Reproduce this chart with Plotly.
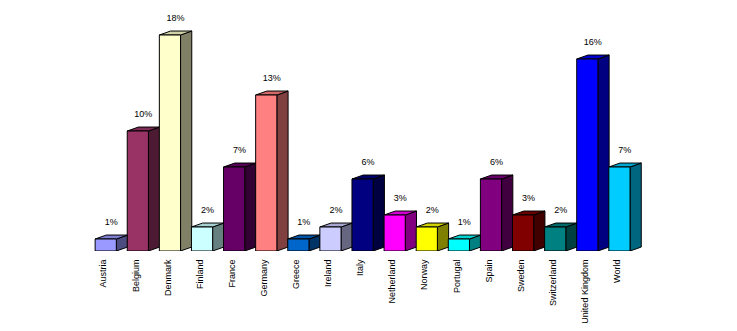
import plotly.graph_objects as go

categories = ["Austria", "Belgium", "Denmark", "Finland", "France", "Germany", "Greece",
              "Ireland", "Italy", "Netherland", "Norway", "Portugal", "Spain", "Sweden",
              "Switzerland", "United Kingdom", "World"]
values = [1, 10, 18, 2, 7, 13, 1, 2, 6, 3, 2, 1, 6, 3, 2, 16, 7]
labels = ["1%", "10%", "18%", "2%", "7%", "13%", "1%", "2%", "6%", "3%", "2%", "1%",
          "6%", "3%", "2%", "16%", "7%"]
colors = ["#9999FF", "#993366", "#FFFFCC", "#CCFFFF", "#660066", "#FF8080", "#0066CC",
          "#CCCCFF", "#000080", "#FF00FF", "#FFFF00", "#00FFFF", "#800080", "#800000",
          "#008080", "#0000FF", "#00CCFF"]


def shade(hexc, f):
    h = hexc.lstrip("#")
    r, g, b = (int(h[i:i + 2], 16) for i in (0, 2, 4))
    return "rgb(%d,%d,%d)" % (round(r * f), round(g * f), round(b * f))


# geometry of the 3D columns (in axis units)
half_l, half_r = 0.34, 0.32
dx, dy = 0.35, 0.33

fig = go.Figure()
line = dict(color="black", width=1)
for i, (v, c) in enumerate(zip(values, colors)):
    x0, x1 = i - half_l, i + half_r
    # side face
    fig.add_trace(go.Scatter(x=[x1, x1 + dx, x1 + dx, x1, x1], y=[0, dy, v + dy, v, 0],
                             fill="toself", fillcolor=shade(c, 0.5), mode="lines",
                             line=line, hoverinfo="skip", showlegend=False))
    # top face
    fig.add_trace(go.Scatter(x=[x0, x1, x1 + dx, x0 + dx, x0], y=[v, v, v + dy, v + dy, v],
                             fill="toself", fillcolor=shade(c, 0.82), mode="lines",
                             line=line, hoverinfo="skip", showlegend=False))
    # front face
    fig.add_trace(go.Scatter(x=[x0, x1, x1, x0, x0], y=[0, 0, v, v, 0],
                             fill="toself", fillcolor=c, mode="lines",
                             line=line, hoverinfo="skip", showlegend=False))

# data labels
fig.add_trace(go.Scatter(x=[i + 0.16 for i in range(len(values))],
                         y=[v + 1.33 for v in values], text=labels, mode="text",
                         textfont=dict(family="Liberation Sans, Arial", size=9, color="black"),
                         hoverinfo="skip", showlegend=False))

fig.update_layout(
    width=737, height=331,
    margin=dict(l=90, r=37, t=11, b=80),
    paper_bgcolor="white", plot_bgcolor="white",
    xaxis=dict(range=[-0.5, 18.5], tickmode="array", automargin=False,
               tickvals=[i - 0.08 for i in range(len(categories))], ticktext=categories,
               tickangle=-90, showgrid=False, zeroline=False, showline=False,
               ticks="outside", ticklen=4, tickcolor="rgba(0,0,0,0)",
               tickfont=dict(family="Liberation Sans, Arial", size=9, color="black")),
    yaxis=dict(range=[0, 20], showgrid=False, zeroline=False, showline=False,
               showticklabels=False, ticks="", automargin=False),
)

fig.write_html("out.html")
